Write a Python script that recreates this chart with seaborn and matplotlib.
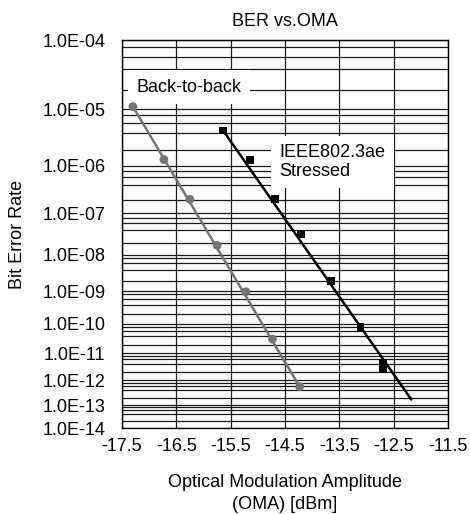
import numpy as np
import pandas as pd
import matplotlib
matplotlib.use("Agg")
import matplotlib.pyplot as plt
import seaborn as sns

# ---- data ----
b2b_oma = [-17.30, -16.73, -16.25, -15.75, -15.22, -14.73, -14.23]
b2b_ber = [1.10e-5, 1.31e-6, 2.04e-7, 1.73e-8, 9.6e-10, 3.1e-11, 5.6e-13]

stressed_oma = [-15.64, -15.15, -14.68, -14.20, -13.66, -13.11, -12.70, -12.70]
stressed_ber = [4.4e-6, 1.27e-6, 2.07e-7, 3.3e-8, 2.0e-9, 8.0e-11, 4.5e-12, 2.7e-12]

b2b_fit_oma = [-17.30, -14.23]
b2b_fit_ber = [1.1e-5, 5.6e-13]
stressed_fit_oma = [-15.64, -12.175]
stressed_fit_ber = [4.4e-6, 1.7e-13]

x_ticks = [-17.5, -16.5, -15.5, -14.5, -13.5, -12.5, -11.5]
y_ticks = [1e-4, 1e-5, 1e-6, 1e-7, 1e-8, 1e-9, 1e-10, 1e-11, 1e-12, 1e-13, 1e-14]
y_tick_labels = ["1.0E-04", "1.0E-05", "1.0E-06", "1.0E-07", "1.0E-08", "1.0E-09",
                 "1.0E-10", "1.0E-11", "1.0E-12", "1.0E-13", "1.0E-14"]

title = "BER vs.OMA"
x_label = "Optical Modulation Amplitude\n(OMA) [dBm]"
y_label = "Bit Error Rate"
label_b2b = "Back-to-back"
label_stressed = "IEEE802.3ae\nStressed"

# ---- style ----
sns.set_style("white")
plt.rcParams['font.family'] = ['Liberation Sans', 'DejaVu Sans']
plt.rcParams['text.color'] = 'black'
plt.rcParams['axes.labelcolor'] = 'black'
plt.rcParams['xtick.color'] = 'black'
plt.rcParams['ytick.color'] = 'black'
FS = 13

def fwd(y):
    y = np.asarray(y, dtype=float)
    with np.errstate(all="ignore"):
        yc = np.clip(y, 1e-300, 1 - 1e-12)
        return -np.log10(-np.log10(yc))

def inv(v):
    v = np.asarray(v, dtype=float)
    with np.errstate(all="ignore"):
        return 10.0 ** (-(10.0 ** (-v)))

fig = plt.figure(figsize=(4.7, 5.14), dpi=100)
ax = fig.add_axes([122 / 470, 1 - 428 / 514, (448 - 122) / 470, 388 / 514])
ax.set_yscale("function", functions=(fwd, inv))

df_b2b = pd.DataFrame({"oma": b2b_oma, "ber": b2b_ber})
df_st = pd.DataFrame({"oma": stressed_oma, "ber": stressed_ber})
df_b2b_fit = pd.DataFrame({"oma": b2b_fit_oma, "ber": b2b_fit_ber})
df_st_fit = pd.DataFrame({"oma": stressed_fit_oma, "ber": stressed_fit_ber})

gray = "#747474"
sns.lineplot(data=df_b2b_fit, x="oma", y="ber", ax=ax, color=gray, lw=1.8,
             estimator=None, sort=False, zorder=3)
sns.lineplot(data=df_st_fit, x="oma", y="ber", ax=ax, color="black", lw=1.8,
             estimator=None, sort=False, zorder=3)
sns.scatterplot(data=df_b2b, x="oma", y="ber", ax=ax, color=gray, s=40,
                marker="o", edgecolor="none", zorder=4)
sns.scatterplot(data=df_st, x="oma", y="ber", ax=ax, color="black", s=32,
                marker="s", edgecolor="none", zorder=4)

ax.set_xlim(-17.5, -11.5)
ax.set_ylim(1e-14, 1e-4)
ax.set_xticks(x_ticks)
ax.set_xticklabels([f"{v:.1f}" for v in x_ticks])
ax.set_yticks(y_ticks)
ax.set_yticklabels(y_tick_labels)
minor = [k * 10.0 ** (-n) for n in range(5, 15) for k in (2, 4, 6, 8)]
ax.set_yticks(minor, minor=True)
ax.yaxis.set_minor_formatter(matplotlib.ticker.NullFormatter())

ax.grid(True, which="major", axis="both", color="#1a1a1a", lw=0.9)
ax.grid(True, which="minor", axis="y", color="#1a1a1a", lw=0.9)
ax.set_axisbelow(True)
ax.tick_params(axis="both", which="both", length=0, labelsize=FS, colors="black")
ax.tick_params(axis="y", pad=12)
ax.tick_params(axis="x", pad=7)
for s in ax.spines.values():
    s.set_color("black")
    s.set_linewidth(1.0)

ax.set_title(title, fontsize=FS, pad=10, color="black")
ax.set_xlabel(x_label, fontsize=FS, linespacing=1.35, labelpad=14, color="black")
ax.set_ylabel("")
fig.text(18 / 470, 1 - 234 / 514, y_label, fontsize=FS, rotation=90,
         ha="center", va="center", color="black")

box = dict(facecolor="white", edgecolor="none", pad=6)
ax.text(-17.23, 2.2e-5, label_b2b, fontsize=FS, ha="left", va="center",
        bbox=box, zorder=2.5, color="black")
ax.text(-14.60, 1.17e-6, label_stressed, fontsize=FS, ha="left", va="center",
        linespacing=1.15, bbox=box, zorder=2.5, color="black")

fig.savefig("out.png", dpi=100)
